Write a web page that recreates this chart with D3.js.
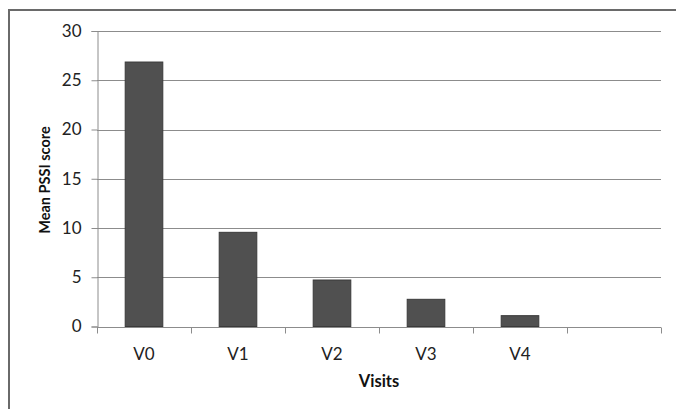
<!DOCTYPE html>
<html>
<head>
<meta charset="utf-8">
<script src="https://cdn.jsdelivr.net/npm/d3@7"></script>
<style>
  html, body { margin: 0; padding: 0; background: #fff; }
  svg { display: block; }
</style>
</head>
<body>
<svg id="chart" width="676" height="409"></svg>
<script>
// Mean PSSI score per visit
const visits = ["V0", "V1", "V2", "V3", "V4", ""];
const meanScores = [26.85, 9.56, 4.72, 2.76, 1.1, null];
const yTicks = [0, 5, 10, 15, 20, 25, 30];

const svg = d3.select("#chart");
const font = "Lato, 'Open Sans', sans-serif";

// outer frame (left and top edges visible)
svg.append("path")
  .attr("d", "M9,409 V10 H676")
  .attr("fill", "none")
  .attr("stroke", "#6a6a6a")
  .attr("stroke-width", 2);

const plot = { left: 97, right: 661, top: 31, bottom: 326.5 };

const x = d3.scaleBand()
  .domain(visits.map((d, i) => i))
  .range([plot.left, plot.right])
  .paddingInner(0.6)
  .paddingOuter(0.3);

const xEdges = d3.scaleLinear()
  .domain([0, visits.length])
  .range([plot.left, plot.right]);

const y = d3.scaleLinear()
  .domain([0, 30])
  .range([plot.bottom, plot.top]);

// horizontal gridlines
svg.append("g")
  .selectAll("line")
  .data(yTicks.filter(t => t > 0))
  .join("line")
  .attr("x1", plot.left)
  .attr("x2", plot.right)
  .attr("y1", d => Math.round(y(d)) + 0.5)
  .attr("y2", d => Math.round(y(d)) + 0.5)
  .attr("stroke", "#8c8c8c")
  .attr("stroke-width", 1);

// bars
svg.append("g")
  .selectAll("rect")
  .data(meanScores.map((v, i) => ({ v, i })).filter(d => d.v != null))
  .join("rect")
  .attr("x", d => x(d.i))
  .attr("width", x.bandwidth())
  .attr("y", d => y(d.v))
  .attr("height", d => y(0) - y(d.v))
  .attr("fill", "#505050")
  .attr("stroke", "#3a3a3a")
  .attr("stroke-width", 1);

// y axis
const yAxis = svg.append("g")
  .attr("transform", `translate(${plot.left + 0.5},0)`)
  .call(d3.axisLeft(y).tickValues(yTicks).tickSize(6).tickPadding(10));
yAxis.select(".domain").attr("stroke", "#8c8c8c");
yAxis.selectAll(".tick line").attr("stroke", "#8c8c8c");
yAxis.selectAll(".tick text")
  .attr("font-family", font)
  .attr("font-size", 17)
  .attr("fill", "#222");

// x axis: ticks between categories
const xAxis = svg.append("g")
  .attr("transform", `translate(0,${Math.round(plot.bottom) + 0.5})`);
xAxis.append("line")
  .attr("x1", plot.left)
  .attr("x2", plot.right)
  .attr("stroke", "#8c8c8c");
xAxis.selectAll(".edge")
  .data(d3.range(visits.length + 1))
  .join("line")
  .attr("class", "edge")
  .attr("x1", d => Math.round(xEdges(d)) + 0.5)
  .attr("x2", d => Math.round(xEdges(d)) + 0.5)
  .attr("y1", 0)
  .attr("y2", 6)
  .attr("stroke", "#8c8c8c");
xAxis.selectAll(".lbl")
  .data(visits.map((v, i) => ({ v, i })))
  .join("text")
  .attr("class", "lbl")
  .attr("x", d => x(d.i) + x.bandwidth() / 2)
  .attr("y", 32)
  .attr("text-anchor", "middle")
  .attr("font-family", font)
  .attr("font-size", 17)
  .attr("fill", "#222")
  .text(d => d.v);

// axis titles
svg.append("text")
  .attr("x", (plot.left + plot.right) / 2)
  .attr("y", 387)
  .attr("text-anchor", "middle")
  .attr("font-family", font)
  .attr("font-weight", "bold")
  .attr("font-size", 16.5)
  .attr("fill", "#111")
  .text("Visits");

svg.append("text")
  .attr("transform", `translate(50,180) rotate(-90)`)
  .attr("text-anchor", "middle")
  .attr("font-family", font)
  .attr("font-weight", "bold")
  .attr("font-size", 14.5)
  .attr("fill", "#111")
  .text("Mean PSSI score");
</script>
</body>
</html>
